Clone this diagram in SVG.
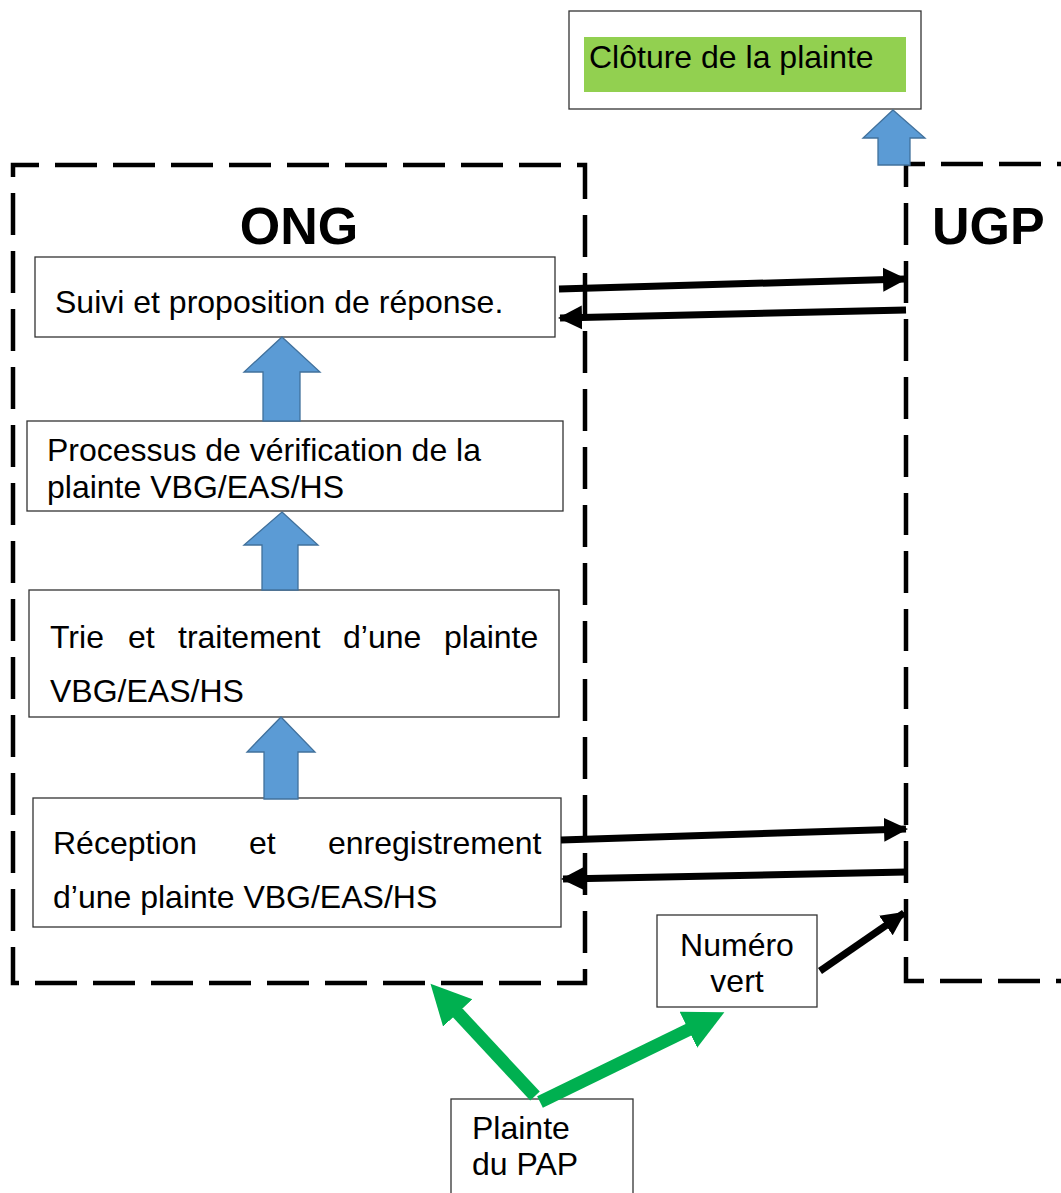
<svg xmlns="http://www.w3.org/2000/svg" width="1061" height="1193" viewBox="0 0 1061 1193">
  <defs>
    <style>
      .box { fill: #ffffff; stroke: #333333; stroke-width: 1.3; }
      .txt { font-family: "Liberation Sans", Arial, sans-serif; font-size: 32px; fill: #000000; }
      .title { font-family: "Liberation Sans", Arial, sans-serif; font-size: 52px; font-weight: bold; fill: #000000; }
      .zone { fill: none; stroke: #000000; stroke-width: 4.5; stroke-dasharray: 42 16; }
      .block { fill: #5b9bd5; stroke: #41719c; stroke-width: 1.3; }
      .link { fill: none; stroke: #000000; stroke-width: 7; marker-end: url(#head-black); }
      .entry { fill: none; stroke: #00b050; stroke-width: 13; marker-end: url(#head-green); }
    </style>
    <marker id="head-black" markerUnits="userSpaceOnUse" markerWidth="26" markerHeight="26" viewBox="0 0 26 26" refX="22" refY="13" orient="auto">
      <path d="M0,1 L24,13 L0,25 Z" fill="#000000"/>
    </marker>
    <marker id="head-green" markerUnits="userSpaceOnUse" markerWidth="44" markerHeight="44" viewBox="0 0 44 44" refX="4" refY="22" orient="auto">
      <path d="M0,2 L40,22 L0,42 Z" fill="#00b050"/>
    </marker>
  </defs>

  <!-- Organisation zones -->
  <g id="zone-ong">
    <path class="zone" d="M13,165 H585 V983 H13 Z" stroke-dashoffset="16"/>
    <text class="title" x="299" y="244" text-anchor="middle">ONG</text>
  </g>
  <g id="zone-ugp">
    <path class="zone" d="M1061,164 H906 V981 H1061" stroke-dashoffset="-20"/>
    <text class="title" x="932" y="244">UGP</text>
  </g>

  <!-- Closing step -->
  <g id="cloture">
    <rect class="box" x="569" y="11" width="352" height="98"/>
    <rect x="584" y="37" width="322" height="55" fill="#92d050"/>
    <text class="txt" x="589" y="68">Clôture de la plainte</text>
  </g>

  <!-- ONG steps -->
  <g id="suivi">
    <rect class="box" x="35" y="257" width="520" height="80"/>
    <text class="txt" x="55" y="313">Suivi et proposition de réponse.</text>
  </g>
  <g id="verification">
    <rect class="box" x="27" y="421" width="536" height="90"/>
    <text class="txt" x="47" y="461">Processus de vérification de la</text>
    <text class="txt" x="47" y="498">plainte VBG/EAS/HS</text>
  </g>
  <g id="tri">
    <rect class="box" x="29" y="590" width="530" height="127"/>
    <text class="txt" y="648"><tspan x="50">Trie</tspan><tspan x="128">et</tspan><tspan x="178">traitement</tspan><tspan x="343">d’une</tspan><tspan x="444">plainte</tspan></text>
    <text class="txt" x="50" y="702">VBG/EAS/HS</text>
  </g>
  <g id="reception">
    <rect class="box" x="33" y="798" width="528" height="129"/>
    <text class="txt" y="854"><tspan x="53">Réception</tspan><tspan x="249">et</tspan><tspan x="328">enregistrement</tspan></text>
    <text class="txt" x="53" y="908">d’une plainte VBG/EAS/HS</text>
  </g>

  <!-- External entry points -->
  <g id="numero-vert">
    <rect class="box" x="657" y="915" width="160" height="92"/>
    <text class="txt" x="737" y="956" text-anchor="middle">Numéro</text>
    <text class="txt" x="737" y="992" text-anchor="middle">vert</text>
  </g>
  <g id="plainte-pap">
    <rect class="box" x="451" y="1099" width="182" height="110"/>
    <text class="txt" x="472" y="1139">Plainte</text>
    <text class="txt" x="472" y="1175">du PAP</text>
  </g>

  <!-- Connectors -->
  <g id="connectors">
    <!-- upward flow between steps -->
    <polygon class="block" points="282,337 320,372 300,372 300,421 263,421 263,372 244,372"/>
    <polygon class="block" points="282,512 318,545 298,545 298,590 262,590 262,545 244,545"/>
    <polygon class="block" points="281,717 315,752 298,752 298,799 264,799 264,752 247,752"/>
    <polygon class="block" points="893,110 925,138 910,138 910,165 878,165 878,138 863,138"/>

    <!-- exchanges with UGP -->
    <line class="link" x1="559" y1="289" x2="905" y2="279"/>
    <line class="link" x1="906" y1="310" x2="560" y2="318"/>
    <line class="link" x1="561" y1="840" x2="906" y2="829"/>
    <line class="link" x1="906" y1="872" x2="563" y2="879"/>
    <line class="link" x1="820" y1="971" x2="904" y2="913"/>

    <!-- complaint channels -->
    <line class="entry" x1="535" y1="1096" x2="455" y2="1010"/>
    <line class="entry" x1="540" y1="1102" x2="692" y2="1028"/>
  </g>
</svg>
